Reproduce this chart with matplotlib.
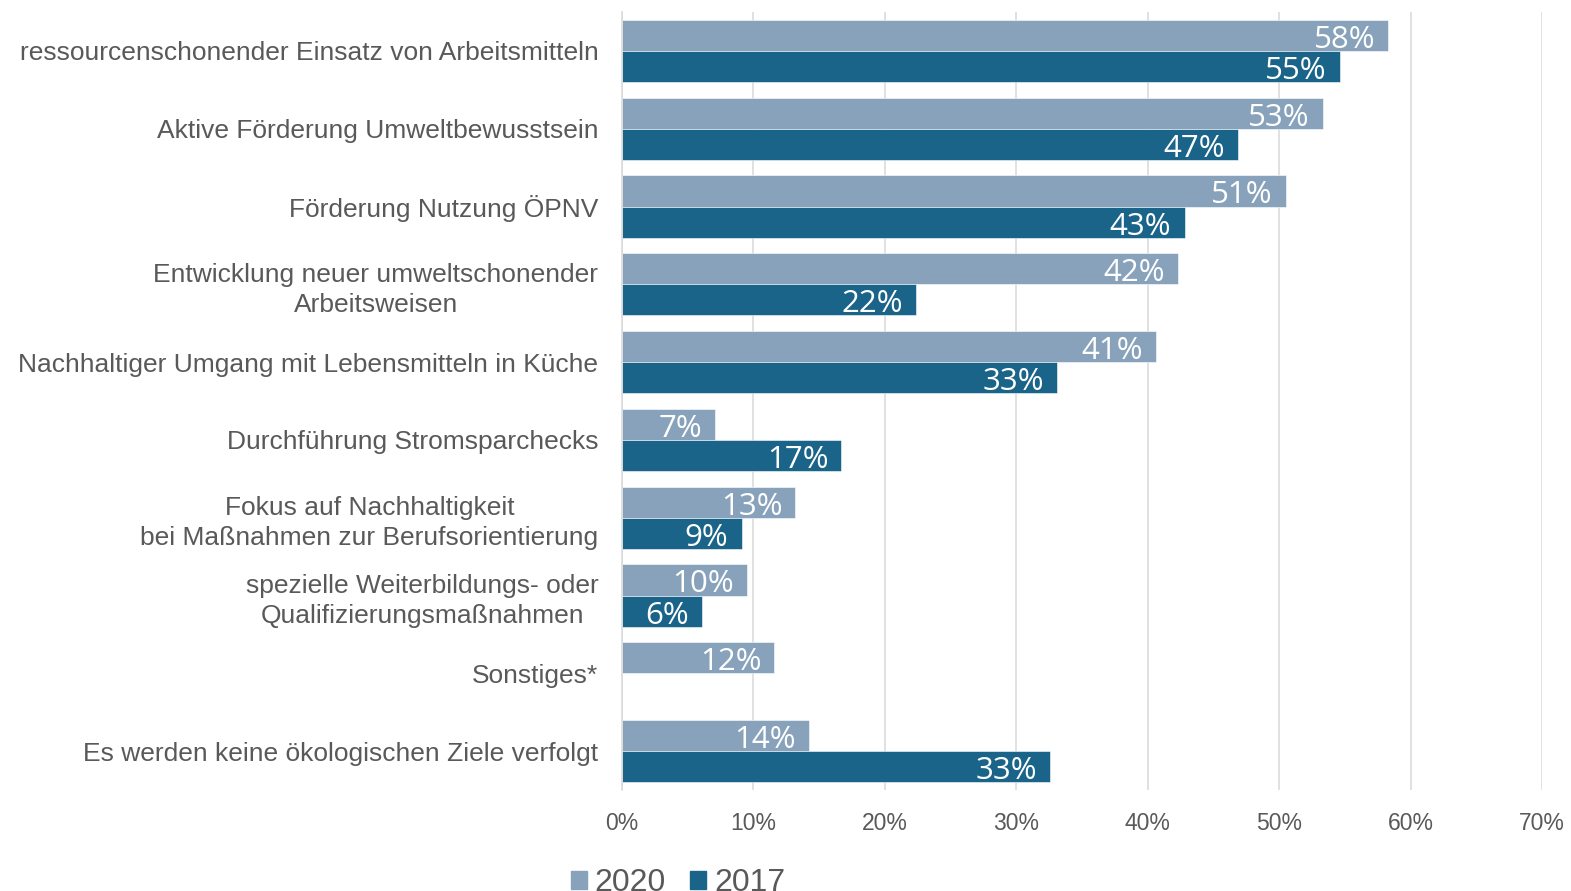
import matplotlib.pyplot as plt
from matplotlib.ticker import FuncFormatter

categories = [
    'ressourcenschonender Einsatz von Arbeitsmitteln',
    'Aktive Förderung Umweltbewusstsein',
    'Förderung Nutzung ÖPNV',
    'Entwicklung neuer umweltschonender\nArbeitsweisen',
    'Nachhaltiger Umgang mit Lebensmitteln in Küche',
    'Durchführung Stromsparchecks',
    'Fokus auf Nachhaltigkeit\nbei Maßnahmen zur Berufsorientierung',
    'spezielle Weiterbildungs- oder\nQualifizierungsmaßnahmen',
    'Sonstiges*',
    'Es werden keine ökologischen Ziele verfolgt',
]
values_2020 = [58.3, 53.3, 50.5, 42.3, 40.6, 7.1, 13.2, 9.5, 11.6, 14.2]
values_2017 = [54.6, 46.9, 42.8, 22.4, 33.1, 16.7, 9.1, 6.1, None, 32.6]
labels_2020 = ['58%', '53%', '51%', '42%', '41%', '7%', '13%', '10%', '12%', '14%']
labels_2017 = ['55%', '47%', '43%', '22%', '33%', '17%', '9%', '6%', '', '33%']

c2020 = '#87A2BA'
c2017 = '#1A6389'
txt = '#595959'

fig = plt.figure(figsize=(15.71, 8.91), dpi=100)
ax = fig.add_axes([622 / 1571, 1 - 790 / 891, 920 / 1571, 778 / 891])

h = 0.4
pos = list(range(len(categories)))
for i in pos:
    ax.barh(i - h / 2, values_2020[i], height=h, color=c2020,
            edgecolor='white', linewidth=0.4)
    ax.annotate(labels_2020[i], (values_2020[i], i - h / 2), xytext=(-9.5, -9),
                textcoords='offset points', ha='right', va='baseline',
                color='white', fontsize=22.5, family='Open Sans')
    if values_2017[i] is not None:
        ax.barh(i + h / 2, values_2017[i], height=h, color=c2017,
                edgecolor='white', linewidth=0.4)
        ax.annotate(labels_2017[i], (values_2017[i], i + h / 2), xytext=(-9.5, -9),
                    textcoords='offset points', ha='right', va='baseline',
                    color='white', fontsize=22.5, family='Open Sans')

ax.set_xlim(0, 70)
ax.set_ylim(len(categories) - 0.5, -0.5)
ax.set_xticks(range(0, 71, 10))
ax.xaxis.set_major_formatter(FuncFormatter(lambda v, p: f'{v:.0f}%'))
ax.set_yticks(pos)
ax.set_yticklabels(categories)
for lab in ax.get_yticklabels():
    lab.set_multialignment('center')
    lab.set_linespacing(1.3)
ax.tick_params(axis='y', length=0, pad=17, labelsize=19, labelcolor=txt)
ax.tick_params(axis='x', length=0, pad=16, labelsize=16.5, labelcolor=txt)
for lab in ax.get_xticklabels() + ax.get_yticklabels():
    lab.set_family('Liberation Sans')

ax.grid(axis='x', color='#D9D9D9', linewidth=1.1)
ax.set_axisbelow(True)
for s in ['top', 'right', 'bottom']:
    ax.spines[s].set_visible(False)
ax.spines['left'].set_color('#D9D9D9')
ax.spines['left'].set_linewidth(1.1)

handles = [plt.Rectangle((0, 0), 1, 1, color=c2020), plt.Rectangle((0, 0), 1, 1, color=c2017)]
fig.legend(handles, ['2020', '2017'], loc='center', bbox_to_anchor=(678 / 1571, 1 - 883 / 891),
           ncol=2, frameon=False, prop={'family': 'Liberation Sans', 'size': 23},
           labelcolor=txt, handlelength=0.5, handleheight=0.5, handletextpad=0.25,
           columnspacing=0.75, borderpad=0)

fig.savefig('out.png', dpi=100)
